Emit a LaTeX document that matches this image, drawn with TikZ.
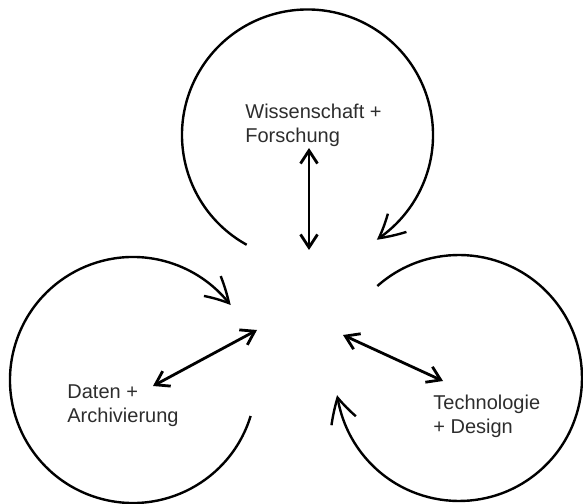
\documentclass[tikz,border=0pt]{standalone}
\usepackage{fontspec}
\setmainfont{Liberation Sans}
\usepackage{tikz}
\usetikzlibrary{arrows.meta, bending, calc}
\definecolor{textcolor}{RGB}{45,45,45}

\begin{document}
\begin{tikzpicture}[
    x=0.5pt, y=0.5pt,
    cyc/.style={line width=1.2pt, -{Straight Barb[length=12pt, width=13pt, line width=1.2pt, bend]}},
    link/.style={line width=1.4pt, {Straight Barb[length=6.5pt, width=8.5pt]}-{Straight Barb[length=6.5pt, width=8.5pt]}},
    lbl/.style={anchor=base west, inner sep=0pt, align=left, font=\fontsize{10pt}{12.3pt}\selectfont, text=textcolor}
]
\useasboundingbox (0,0) rectangle (583,503);

\coordinate (wissC) at (307.5,368);
\coordinate (datenC) at (133,123);
\coordinate (techC) at (459,125);

\node[lbl] (wiss) at (245,360) {Wissenschaft +\\Forschung};
\node[lbl] (daten) at (67,80) {Daten +\\Archivierung};
\node[lbl] (tech) at (433,69) {Technologie\\+ Design};

\coordinate (wissIn) at (309,253);
\coordinate (wissOut) at (309,355);
\coordinate (datenIn) at (257,173);
\coordinate (datenOut) at (153,117);
\coordinate (techIn) at (343,168);
\coordinate (techOut) at (443,122);

\draw[cyc] ($(wissC)+(241:125.5)$) arc[start angle=241, end angle=-56.5, radius=125.5];
\draw[cyc] ($(datenC)+(-17:123)$) arc[start angle=-17, end angle=-322.5, radius=123];
\draw[cyc] ($(techC)+(131.6:123)$) arc[start angle=131.6, end angle=-172, radius=123];

\draw[link] (wissOut) -- (wissIn);
\draw[link] (datenOut) -- (datenIn);
\draw[link] (techOut) -- (techIn);
\end{tikzpicture}
\end{document}
